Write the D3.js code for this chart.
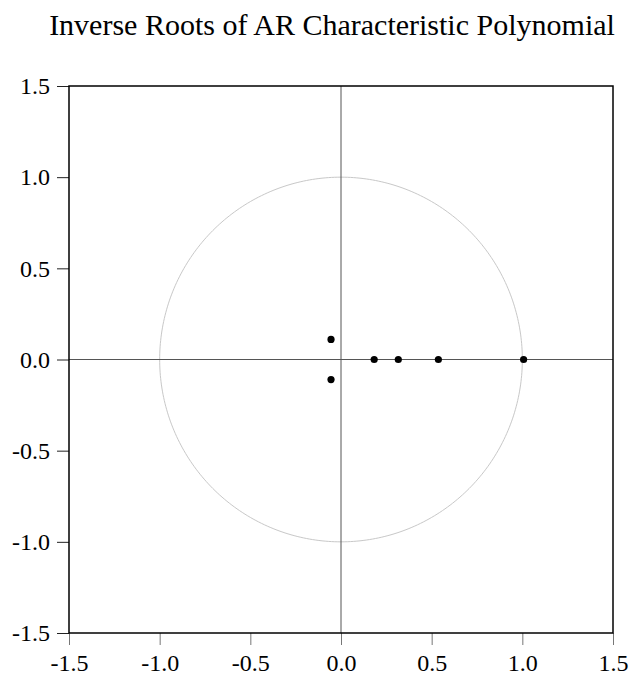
<!DOCTYPE html>
<html>
<head>
<meta charset="utf-8">
<script src="https://cdn.jsdelivr.net/npm/d3@7"></script>
<style>
  body { margin: 0; background: #fff; }
  text { font-family: "Liberation Serif", "Times New Roman", serif; fill: #000; }
</style>
</head>
<body>
<div id="chart"></div>
<script>
// inverse roots (real, imaginary)
var rootRe = [-0.055, -0.055, 0.183, 0.316, 0.537, 1.007];
var rootIm = [0.11, -0.11, 0, 0, 0, 0];
var ticks = [-1.5, -1.0, -0.5, 0.0, 0.5, 1.0, 1.5];
var title = "Inverse Roots of AR Characteristic Polynomial";

var W = 629, H = 675;
var margin = {top: 86, right: 16, bottom: 42, left: 69};
var width = W - margin.left - margin.right;
var height = H - margin.top - margin.bottom;

var svg = d3.select("#chart").append("svg")
    .attr("width", W)
    .attr("height", H);

var g = svg.append("g")
    .attr("transform", "translate(" + margin.left + "," + margin.top + ")");

var x = d3.scaleLinear().domain([-1.5, 1.5]).range([0, width]);
var y = d3.scaleLinear().domain([-1.5, 1.5]).range([height, 0]);

// unit circle
var circ = d3.range(0, 361).map(function (a) {
  var t = a * Math.PI / 180;
  return [Math.cos(t), Math.sin(t)];
});
g.append("path")
    .attr("d", d3.line().x(function (d) { return x(d[0]); }).y(function (d) { return y(d[1]); })(circ))
    .attr("fill", "none")
    .attr("stroke", "#c8c8c8")
    .attr("stroke-width", 1);

// zero lines
g.append("line")
    .attr("x1", x(0)).attr("x2", x(0)).attr("y1", 0).attr("y2", height)
    .attr("stroke", "#555").attr("stroke-width", 1);
g.append("line")
    .attr("x1", 0).attr("x2", width).attr("y1", y(0)).attr("y2", y(0))
    .attr("stroke", "#555").attr("stroke-width", 1);

// axes
var fmt = function (d) { return d3.format(".1f")(d).replace("−", "-"); };
var xAxis = d3.axisBottom(x).tickValues(ticks).tickFormat(fmt).tickSize(12).tickPadding(9);
var yAxis = d3.axisLeft(y).tickValues(ticks).tickFormat(fmt).tickSize(12).tickPadding(7);

var gx = g.append("g").attr("transform", "translate(0," + height + ")").call(xAxis);
var gy = g.append("g").call(yAxis);
gx.selectAll("line").attr("stroke", "#777");
gy.selectAll("line").attr("stroke", "#222");
[gx, gy].forEach(function (a) {
  a.select(".domain").remove();
  a.selectAll("text").attr("font-size", 24).attr("font-family", "Liberation Serif, serif");
});

// frame
g.append("rect")
    .attr("width", width).attr("height", height)
    .attr("fill", "none").attr("stroke", "#000").attr("stroke-width", 1.5);

// points
g.selectAll(".pt").data(rootRe).enter().append("circle")
    .attr("class", "pt")
    .attr("cx", function (d) { return x(d); })
    .attr("cy", function (d, i) { return y(rootIm[i]); })
    .attr("r", 3.6)
    .attr("fill", "#000");

// title
svg.append("text")
    .attr("x", 332).attr("y", 35)
    .attr("text-anchor", "middle")
    .attr("font-size", 30)
    .text(title);
</script>
</body>
</html>
